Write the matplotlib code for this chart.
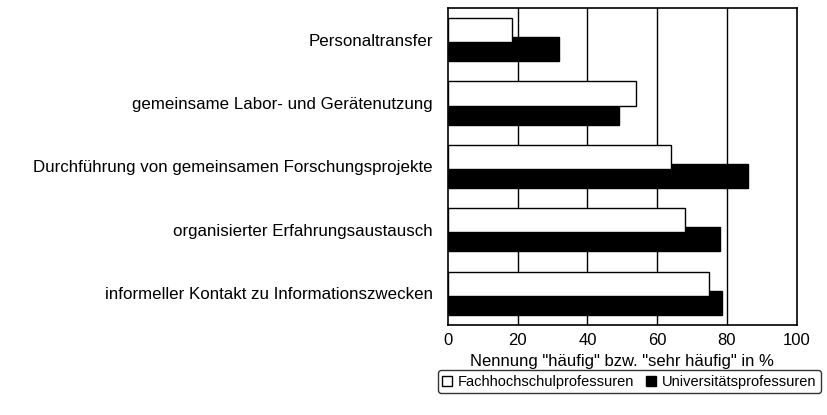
import numpy as np
import matplotlib.pyplot as plt
from matplotlib.lines import Line2D

plt.rcParams['font.family'] = ['Liberation Sans', 'DejaVu Sans']

# Data (% "häufig" / "sehr häufig")
categories = ["Personaltransfer",
              "gemeinsame Labor- und Gerätenutzung",
              "Durchführung von gemeinsamen Forschungsprojekte",
              "organisierter Erfahrungsaustausch",
              "informeller Kontakt zu Informationszwecken"]
fh_values = [18.5, 54, 64, 68, 75]     # Fachhochschulprofessuren
uni_values = [32, 49, 86, 78, 78.5]    # Universitätsprofessuren
xticks = [0, 20, 40, 60, 80, 100]

fig = plt.figure(figsize=(8.28, 4.15), dpi=100)
ax = fig.add_axes([0.541, 0.217, 0.421, 0.764])

y = np.arange(len(categories))
h = 0.38
off = 0.15
ax.barh(y + off, uni_values, height=h, color='black', edgecolor='black', lw=1, zorder=2)
ax.barh(y - off, fh_values, height=h, color='white', edgecolor='black', lw=1, zorder=3)

ax.set_xlim(0, 100)
ax.set_ylim(len(categories) - 0.5, -0.5)
for g in xticks[1:-1]:
    ax.axvline(g, color='black', lw=1, zorder=1)

ax.set_yticks(y)
ax.set_yticklabels(categories, fontsize=12.2)
ax.set_xticks(xticks)
ax.set_xticklabels([str(t) for t in xticks], fontsize=12)
ax.tick_params(length=0)
ax.tick_params(axis='x', pad=6)
ax.tick_params(axis='y', pad=11)
for s in ax.spines.values():
    s.set_linewidth(1.2)
ax.set_xlabel('Nennung "häufig" bzw. "sehr häufig" in %', fontsize=12, labelpad=4)

handles = [Line2D([], [], marker='s', ls='none', markerfacecolor='white',
                  markeredgecolor='black', markersize=7),
           Line2D([], [], marker='s', ls='none', markerfacecolor='black',
                  markeredgecolor='black', markersize=7)]
leg = fig.legend(handles, ["Fachhochschulprofessuren", "Universitätsprofessuren"],
                 loc='center', bbox_to_anchor=(0.76, 0.08), ncol=2, fontsize=10.5,
                 frameon=True, fancybox=True, edgecolor='black', handlelength=0.7,
                 handletextpad=0.4, columnspacing=0.8, borderpad=0.3)
leg.get_frame().set_linewidth(1)

fig.savefig('out.png', dpi=100)
